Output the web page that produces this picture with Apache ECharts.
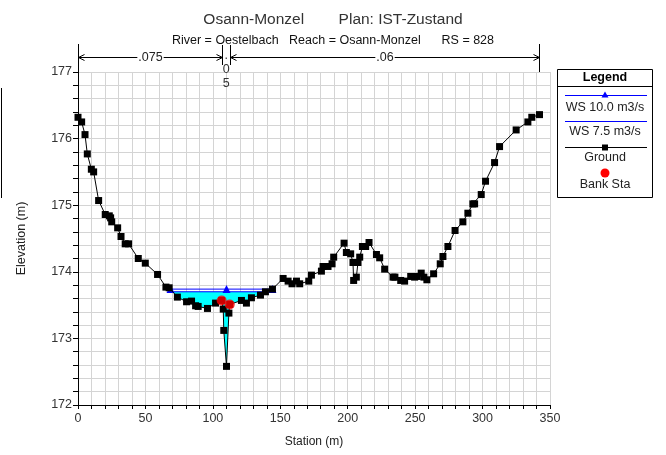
<!DOCTYPE html>
<html>
<head>
<meta charset="utf-8">
<script src="https://cdn.jsdelivr.net/npm/echarts@6/dist/echarts.min.js"></script>
<style>
  html, body { margin: 0; background: #fff; }
  #xs { width: 666px; height: 455px; }
</style>
</head>
<body>
<div id="xs"></div>
<script>
// Querschnitt RS 828 - Stationen und Höhen
const groundSta = [0, 2.7, 5.2, 6.9, 9.9, 11.6, 15.3, 20.2, 23.2, 24.2, 25.0, 29.4, 31.9, 35.0, 37.5,
  44.7, 49.9, 59.0, 65.2, 67.6, 73.7, 80.5, 84.2, 87.2, 89.1, 96.0, 102.0, 106.5, 107.7, 108.1,
  110.1, 111.9, 112.5, 121.2, 124.9, 128.6, 135.3, 139.0, 144.2, 152.1, 155.8, 158.7, 162.0, 164.4,
  171.1, 173.1, 180.5, 181.7, 185.4, 188.4, 189.6, 197.3, 199.0, 202.2, 203.9, 204.4, 206.4, 207.6,
  208.9, 210.9, 213.3, 215.8, 221.3, 223.7, 227.4, 233.6, 235.0, 239.3, 242.2, 246.7, 249.6, 251.6,
  254.5, 256.5, 258.7, 263.7, 268.6, 270.6, 274.3, 279.6, 285.4, 289.1, 292.8, 294.1, 299.0, 302.2,
  308.9, 312.6, 324.9, 333.6, 336.5, 342.2]
const groundElev = [176.32, 176.25, 176.06, 175.77, 175.54, 175.50, 175.07, 174.86, 174.84, 174.81, 174.75, 174.66, 174.53, 174.42, 174.42,
  174.20, 174.13, 173.96, 173.77, 173.76, 173.62, 173.55, 173.56, 173.49, 173.48, 173.45, 173.53, 173.57, 173.44, 173.12,
  172.58, 173.38, 173.51, 173.57, 173.53, 173.61, 173.65, 173.70, 173.74, 173.90, 173.86, 173.82, 173.86, 173.82,
  173.86, 173.95, 174.01, 174.08, 174.08, 174.12, 174.22, 174.43, 174.29, 174.27, 174.14, 173.87, 173.92, 174.14,
  174.22, 174.38, 174.38, 174.44, 174.26, 174.21, 174.04, 173.92, 173.92, 173.87, 173.86, 173.93, 173.92, 173.93,
  173.98, 173.92, 173.88, 173.97, 174.12, 174.23, 174.38, 174.62, 174.75, 174.88, 175.02, 175.02, 175.16, 175.36,
  175.64, 175.88, 176.13, 176.25, 176.32, 176.36]

const bankSta = [106.5, 112.5]
const bankElev = [173.57, 173.51]

// Wasserspiegel
const ws10Sta = [68.6, 110.1, 144.2]
const ws10Elev = 173.74
const ws75Sta = [70.0, 140.5]
const ws75Elev = 173.70

// Manning n
const nBreaks = [0, 106.5, 112.5, 342.2]
const nValues = ['.075', '.05', '.06']

const xTicks = [0, 50, 100, 150, 200, 250, 300, 350]
const yTicks = [172, 173, 174, 175, 176, 177]

const FONT = 'Liberation Sans, Arial, sans-serif'

const ground = groundSta.map((s, i) => [s, groundElev[i]])
const banks = bankSta.map((s, i) => [s, bankElev[i]])
const ws10 = ws10Sta.map(s => [s, ws10Elev])
const ws75 = ws75Sta.map(s => [s, ws75Elev])

// Wasserfläche: Spiegel oben, Gelände unten
const wetPoly = [[ws75Sta[0], ws75Elev], [ws75Sta[1], ws75Elev]]
  .concat(ground.filter(p => p[0] > ws75Sta[0] && p[0] < ws75Sta[1]).reverse())

const chart = echarts.init(document.getElementById('xs'))

const option = {
  animation: false,
  backgroundColor: '#fff',
  title: [
    {
      text: 'Osann-Monzel        Plan: IST-Zustand',
      left: 'center',
      top: 7,
      textStyle: { fontSize: 15.5, fontWeight: 'normal', color: '#333', fontFamily: FONT }
    },
    {
      text: 'River = Oestelbach   Reach = Osann-Monzel      RS = 828',
      left: 'center',
      top: 29,
      textStyle: { fontSize: 12.5, fontWeight: 'normal', color: '#111', fontFamily: FONT }
    }
  ],
  grid: { left: 78, right: 116, top: 72, bottom: 50 },
  xAxis: {
    type: 'value',
    min: 0,
    max: 350,
    interval: 10,
    name: 'Station (m)',
    nameLocation: 'middle',
    nameGap: 31,
    nameTextStyle: { fontSize: 12, color: '#222', fontFamily: FONT },
    axisLine: { onZero: false, lineStyle: { color: '#000', width: 1 } },
    axisTick: { inside: false, length: 4, lineStyle: { color: '#000' } },
    axisLabel: {
      fontSize: 12.5, color: '#333', fontFamily: FONT, margin: 7,
      formatter: v => (xTicks.indexOf(v) >= 0 ? String(v) : '')
    },
    splitLine: { show: true, lineStyle: { color: '#d4d4d4', width: 1 } }
  },
  yAxis: {
    type: 'value',
    min: 172,
    max: 177,
    interval: 0.2,
    name: 'Elevation (m)',
    nameLocation: 'middle',
    nameGap: 50,
    nameTextStyle: { fontSize: 12.5, color: '#222', fontFamily: FONT },
    axisLine: { show: true, onZero: false, lineStyle: { color: '#000', width: 1 } },
    axisTick: { show: true, length: 5, lineStyle: { color: '#000' } },
    axisLabel: {
      fontSize: 12.5, color: '#333', fontFamily: FONT, margin: 6,
      formatter: v => {
        const r = Math.round(v)
        return Math.abs(v - r) < 1e-6 && yTicks.indexOf(r) >= 0 ? String(r) : ''
      }
    },
    splitLine: { show: true, lineStyle: { color: '#d4d4d4', width: 1 } }
  },
  series: [
    {
      name: 'wet',
      type: 'custom',
      silent: true,
      data: wetPoly,
      renderItem: function (params, api) {
        if (params.dataIndex !== 0) return
        const pts = wetPoly.map(p => api.coord(p))
        return { type: 'polygon', shape: { points: pts }, style: { fill: '#00ffff' } }
      },
      z: 1
    },
    {
      name: 'WS 7.5 m3/s',
      type: 'line',
      data: ws75,
      symbol: 'none',
      lineStyle: { color: '#0000ff', width: 1 },
      z: 2
    },
    {
      name: 'WS 10.0 m3/s',
      type: 'line',
      data: ws10,
      symbol: 'triangle',
      symbolSize: 8,
      itemStyle: { color: '#0000ff' },
      lineStyle: { color: '#0000ff', width: 1 },
      z: 3
    },
    {
      name: 'Ground',
      type: 'line',
      data: ground,
      symbol: 'rect',
      symbolSize: 7,
      itemStyle: { color: '#000' },
      lineStyle: { color: '#000', width: 1 },
      z: 4
    },
    {
      name: 'Bank Sta',
      type: 'scatter',
      data: banks,
      symbol: 'circle',
      symbolSize: 10,
      itemStyle: { color: '#ff0000' },
      z: 5
    }
  ]
}

chart.setOption(option)

// Legende
const lx = 605
const legendEls = [
  { type: 'line', shape: { x1: 1.5, y1: 88, x2: 1.5, y2: 198 }, style: { stroke: '#000', lineWidth: 1 } },
  { type: 'rect', shape: { x: 557.5, y: 69.5, width: 95, height: 128 }, style: { fill: '#fff', stroke: '#000', lineWidth: 1 } },
  { type: 'text', x: lx, y: 78, style: { text: 'Legend', font: 'bold 12.5px ' + FONT, fill: '#000', align: 'center', verticalAlign: 'middle' } },
  { type: 'line', shape: { x1: 557.5, y1: 86.5, x2: 652.5, y2: 86.5 }, style: { stroke: '#000', lineWidth: 1 } },
  { type: 'line', shape: { x1: 565, y1: 95.5, x2: 647, y2: 95.5 }, style: { stroke: '#0000ff', lineWidth: 1 } },
  { type: 'polygon', shape: { points: [[lx, 91.5], [lx - 3.5, 97.5], [lx + 3.5, 97.5]] }, style: { fill: '#0000ff' } },
  { type: 'text', x: lx, y: 108, style: { text: 'WS 10.0 m3/s', font: '12.5px ' + FONT, fill: '#222', align: 'center', verticalAlign: 'middle' } },
  { type: 'line', shape: { x1: 565, y1: 121.5, x2: 647, y2: 121.5 }, style: { stroke: '#0000ff', lineWidth: 1 } },
  { type: 'text', x: lx, y: 132, style: { text: 'WS 7.5 m3/s', font: '12.5px ' + FONT, fill: '#222', align: 'center', verticalAlign: 'middle' } },
  { type: 'line', shape: { x1: 565, y1: 147.5, x2: 647, y2: 147.5 }, style: { stroke: '#000', lineWidth: 1 } },
  { type: 'rect', shape: { x: lx - 3, y: 144.5, width: 6, height: 6 }, style: { fill: '#000' } },
  { type: 'text', x: lx, y: 158, style: { text: 'Ground', font: '12.5px ' + FONT, fill: '#222', align: 'center', verticalAlign: 'middle' } },
  { type: 'circle', shape: { cx: lx, cy: 173, r: 4.5 }, style: { fill: '#ff0000' } },
  { type: 'text', x: lx, y: 185, style: { text: 'Bank Sta', font: '12.5px ' + FONT, fill: '#222', align: 'center', verticalAlign: 'middle' } }
]

// Manning-n Bereiche oberhalb der Grafik
const nEls = []
const nx = nBreaks.map(s => chart.convertToPixel({ xAxisIndex: 0 }, s))
const topY = 72
const arrowY = 57.5
const head = (x, dir) => ({
  type: 'polyline',
  shape: { points: [[x + dir * 6, arrowY - 3], [x, arrowY], [x + dir * 6, arrowY + 3]] },
  style: { stroke: '#000', fill: null, lineWidth: 1 }
})
nx.forEach((x, i) => {
  const xr = Math.round(x) + 0.5
  const inner = i === 1 || i === 2
  nEls.push({ type: 'line', shape: { x1: xr, y1: inner ? 45 : 44, x2: xr, y2: inner ? 65 : topY }, style: { stroke: '#000', lineWidth: 1 } })
})
;[[0, 1, nValues[0]], [2, 3, nValues[2]]].forEach(([a, b, label]) => {
  const xa = Math.round(nx[a]) + 0.5
  const xb = Math.round(nx[b]) + 0.5
  nEls.push({ type: 'line', shape: { x1: xa, y1: arrowY, x2: xb, y2: arrowY }, style: { stroke: '#000', lineWidth: 1 } })
  nEls.push(head(xa, 1))
  nEls.push(head(xb, -1))
  nEls.push({
    type: 'text', x: (xa + xb) / 2, y: arrowY,
    style: { text: label, font: '12.5px ' + FONT, fill: '#222', align: 'center', verticalAlign: 'middle', backgroundColor: '#fff', padding: [0, 1] },
    z: 10
  })
})
// schmaler Mittelbereich: Beschriftung senkrecht
const midX = (nx[1] + nx[2]) / 2 + 0.5
const charY = [56, 70, 84]
nValues[1].split('').forEach((ch, i) => {
  nEls.push({
    type: 'text', x: midX, y: charY[i],
    style: { text: ch, font: '12.5px ' + FONT, fill: '#333', align: 'center', verticalAlign: 'middle' },
    z: 10
  })
})

chart.setOption({ graphic: legendEls.concat(nEls) })
</script>
</body>
</html>
